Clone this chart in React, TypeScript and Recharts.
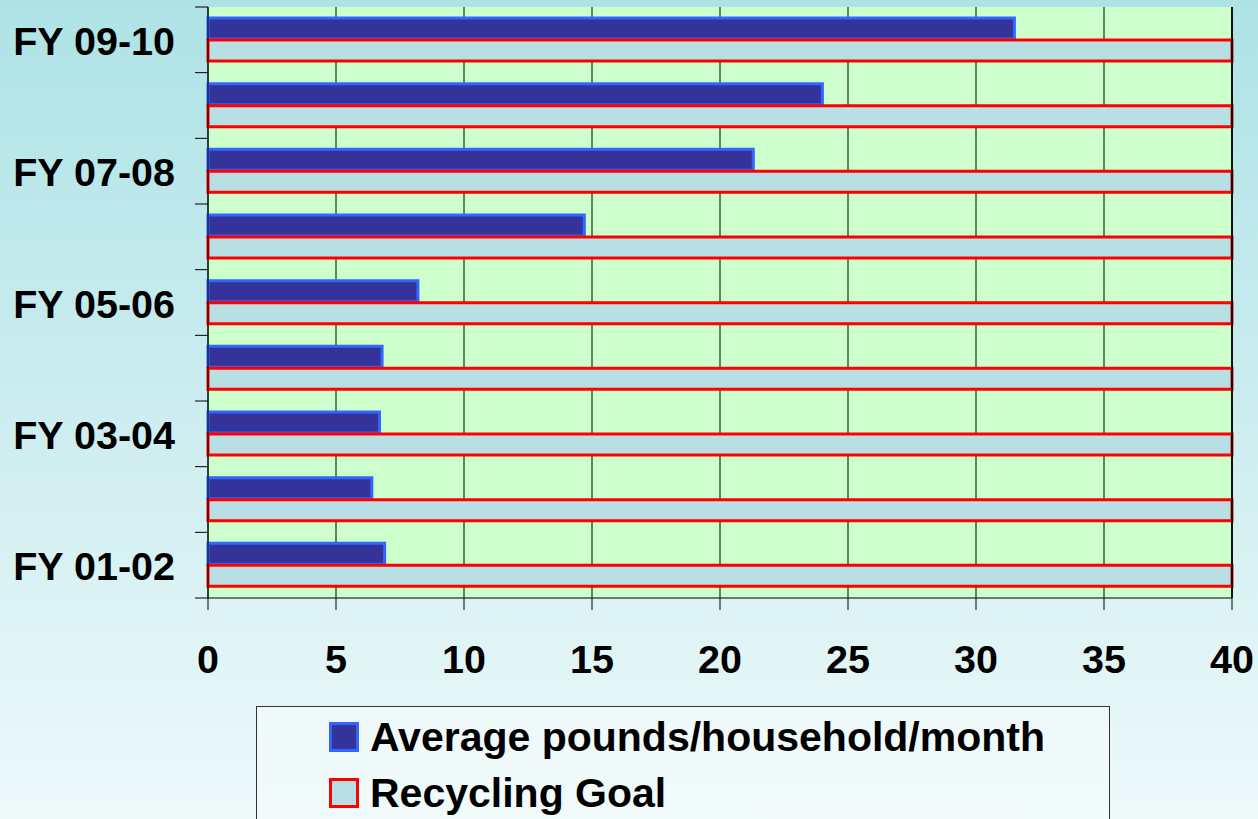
import { Bar, BarChart, CartesianGrid, ReferenceLine, XAxis, YAxis } from "recharts";

const CATEGORIES = ["FY 01-02", "FY 02-03", "FY 03-04", "FY 04-05", "FY 05-06", "FY 06-07", "FY 07-08", "FY 08-09", "FY 09-10"];
const AVERAGE = [6.9, 6.4, 6.7, 6.8, 8.2, 14.7, 21.3, 24, 31.5];
const GOAL = [40, 40, 40, 40, 40, 40, 40, 40, 40];
const X_TICKS = [0, 5, 10, 15, 20, 25, 30, 35, 40];
const SERIES_NAMES = ["Average pounds/household/month", "Recycling Goal"];

const FONT = '"Liberation Sans", Arial, sans-serif';
const W = 1258;
const H = 819;
const AXIS_W = 208;
const TOP = 7;
const PLOT_H = 591;
const BAND_HALF = PLOT_H / CATEGORIES.length / 2;

const data = CATEGORIES.map((year, i) => ({ year, avg: AVERAGE[i], goal: GOAL[i] }));

function YTick(props: any) {
  const { y, payload } = props;
  return (
    <g>
      <text x={AXIS_W - 33} y={y} dy="0.38em" textAnchor="end" fontSize={39.5} fontWeight={700} fill="#000" fontFamily={FONT}>
        {payload.value}
      </text>
      <line x1={AXIS_W - 13} x2={AXIS_W} y1={y - BAND_HALF} y2={y - BAND_HALF} stroke="#000" />
      <line x1={AXIS_W - 13} x2={AXIS_W} y1={y + BAND_HALF} y2={y + BAND_HALF} stroke="#000" />
    </g>
  );
}

export default function App() {
  return (
    <div
      style={{
        position: "absolute",
        left: 0,
        top: 0,
        width: W,
        height: H,
        overflow: "hidden",
        background: "linear-gradient(180deg, #aee3e6 0%, #c9ecef 45%, #eef9fa 100%)",
        fontFamily: FONT,
      }}
    >
      <BarChart
        width={W}
        height={H}
        data={data}
        layout="vertical"
        barSize={21}
        barGap={1}
        margin={{ top: TOP, right: 26, left: 0, bottom: H - TOP - PLOT_H - 60 }}
      >
        <CartesianGrid horizontal={false} stroke="#000" fill="#ccffcc" fillOpacity={1} />
        <XAxis
          type="number"
          domain={[0, 40]}
          ticks={X_TICKS}
          height={60}
          tickSize={12}
          tickMargin={35}
          stroke="#000"
          tick={{ fontSize: 39.5, fontWeight: 700, fill: "#000", fontFamily: FONT }}
        />
        <XAxis
          xAxisId="top"
          orientation="top"
          type="number"
          domain={[0, 40]}
          height={0}
          tick={false}
          tickLine={false}
          axisLine={{ stroke: "#3a3a3a", strokeWidth: 2 }}
        />
        <YAxis
          type="category"
          dataKey="year"
          reversed
          interval={1}
          width={AXIS_W}
          tickLine={false}
          axisLine={{ stroke: "#000" }}
          tick={<YTick />}
        />
        <ReferenceLine x={40} stroke="#111" strokeWidth={2} />
        <Bar dataKey="avg" name={SERIES_NAMES[0]} fill="#333399" stroke="#3366ff" strokeWidth={3} isAnimationActive={false} />
        <Bar dataKey="goal" name={SERIES_NAMES[1]} fill="#b8dfe3" stroke="#ff0000" strokeWidth={3} isAnimationActive={false} />
      </BarChart>
      <div
        style={{
          position: "absolute",
          left: 256,
          top: 706,
          width: 852,
          height: 140,
          border: "1px solid #333",
          background: "rgba(245,252,252,0.6)",
        }}
      >
        {SERIES_NAMES.map((name, i) => (
          <div key={name} style={{ position: "absolute", left: 72, top: 15 + i * 56, display: "flex", alignItems: "center" }}>
            <div
              style={{
                width: 30,
                height: 30,
                boxSizing: "border-box",
                border: i === 0 ? "3px solid #3366ff" : "3px solid #ff0000",
                background: i === 0 ? "#333399" : "#b8dfe3",
              }}
            />
            <span style={{ marginLeft: 11, fontSize: 41, fontWeight: 700, color: "#000", lineHeight: "30px" }}>{name}</span>
          </div>
        ))}
      </div>
    </div>
  );
}
